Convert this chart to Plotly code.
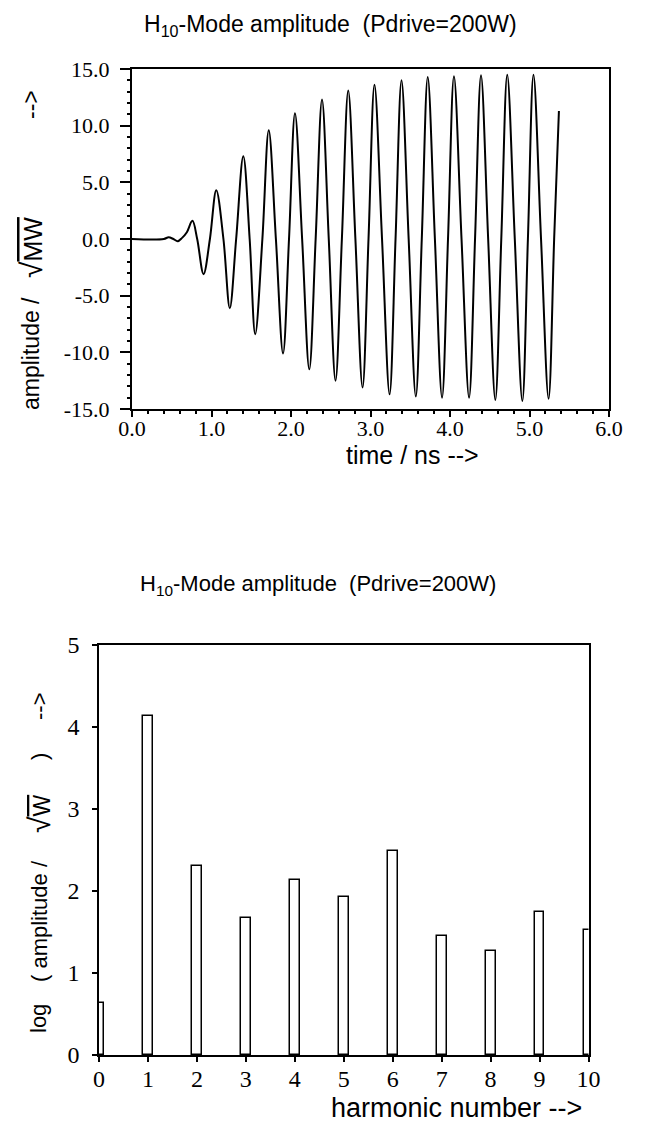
import plotly.graph_objects as go

# ---- top chart data: H10-mode amplitude vs time ----
t_ns = [0.00, 0.40, 0.46, 0.52, 0.575, 0.63, 0.69, 0.76, 0.82, 0.90, 0.98, 1.06,
        1.15, 1.23, 1.31, 1.40, 1.48, 1.55, 1.64, 1.72, 1.81, 1.90, 1.975, 2.05,
        2.14, 2.23, 2.31, 2.39, 2.475, 2.56, 2.64, 2.72, 2.81, 2.90, 2.975, 3.05,
        3.145, 3.24, 3.315, 3.39, 3.48, 3.57, 3.645, 3.72, 3.81, 3.90, 3.975, 4.05,
        4.145, 4.24, 4.315, 4.39, 4.48, 4.57, 4.645, 4.72, 4.815, 4.91, 4.98, 5.05,
        5.145, 5.24, 5.31, 5.37]
amp_sqrt_mw = [0.0, 0.0, 0.15, 0.0, -0.2, 0.1, 0.6, 1.6, 0.0, -3.1, 0.0, 4.3,
               0.0, -6.1, 0.0, 7.3, 0.0, -8.4, 0.0, 9.6, 0.0, -10.1, 0.0, 11.1,
               0.0, -11.5, 0.0, 12.3, 0.0, -12.5, 0.0, 13.1, 0.0, -13.1, 0.0, 13.6,
               0.0, -13.7, 0.0, 14.0, 0.0, -13.9, 0.0, 14.3, 0.0, -14.0, 0.0, 14.35,
               0.0, -14.0, 0.0, 14.45, 0.0, -14.2, 0.0, 14.5, 0.0, -14.3, 0.0, 14.5,
               0.0, -14.1, 0.0, 11.3]
top_x_ticks = [0, 1, 2, 3, 4, 5, 6]
top_x_labels = ["0.0", "1.0", "2.0", "3.0", "4.0", "5.0", "6.0"]
top_y_ticks = [15, 10, 5, 0, -5, -10, -15]
top_y_labels = ["15.0", "10.0", "5.0", "0.0", "-5.0", "-10.0", "-15.0"]

# ---- bottom chart data: harmonic spectrum ----
harmonic = [0, 1, 2, 3, 4, 5, 6, 7, 8, 9, 10]
log_amp = [0.64, 4.14, 2.30, 1.67, 2.14, 1.93, 2.49, 1.45, 1.27, 1.74, 1.52]
bot_x_ticks = [0, 1, 2, 3, 4, 5, 6, 7, 8, 9, 10]
bot_y_ticks = [0, 1, 2, 3, 4, 5]

W, H = 670, 1133
OFF = 8  # page body margin
title_text = "H<sub>10</sub>-Mode amplitude  (Pdrive=200W)"
SANS = "Liberation Sans, Arial, sans-serif"
SERIF = "Liberation Serif, Times New Roman, serif"
NB = "\u00a0"

def px(x):
    return (x - OFF) / W

def py(y):
    return 1 - (y - OFF) / H

fig = go.Figure()

fig.add_trace(go.Scatter(
    x=t_ns, y=amp_sqrt_mw, mode="lines",
    line=dict(color="black", width=2, shape="spline", smoothing=1.0),
    xaxis="x", yaxis="y", showlegend=False, hoverinfo="skip"))

fig.add_trace(go.Bar(
    x=harmonic, y=log_amp, width=0.2,
    marker=dict(color="white", line=dict(color="black", width=1.5)),
    xaxis="x2", yaxis="y2", showlegend=False, hoverinfo="skip"))

fig.update_layout(
    width=W, height=H,
    margin=dict(l=0, r=0, t=0, b=0, pad=0, autoexpand=False),
    paper_bgcolor="white", plot_bgcolor="white",
    xaxis=dict(domain=[px(132), px(609)], range=[0, 6], anchor="y", automargin=False,
               tickvals=top_x_ticks, ticktext=top_x_labels,
               ticks="outside", ticklen=6, tickwidth=2, tickcolor="black",
               ticklabelstandoff=-7,
               minor=dict(dtick=0.2, ticks="outside", ticklen=3, tickwidth=2, tickcolor="black"),
               showline=True, linewidth=2, linecolor="black", mirror=True,
               showgrid=False, zeroline=False,
               tickfont=dict(family=SERIF, size=22, color="black")),
    yaxis=dict(domain=[py(409), py(69)], range=[-15, 15], anchor="x", automargin=False,
               tickvals=top_y_ticks, ticktext=top_y_labels,
               ticks="outside", ticklen=10, tickwidth=2, tickcolor="black",
               ticklabelstandoff=6,
               minor=dict(dtick=1, ticks="outside", ticklen=3, tickwidth=2, tickcolor="black"),
               showline=True, linewidth=2, linecolor="black", mirror=True,
               showgrid=False, zeroline=False,
               tickfont=dict(family=SERIF, size=22, color="black")),
    xaxis2=dict(domain=[px(99), px(588.5)], range=[0, 10], anchor="y2", automargin=False,
                tickvals=bot_x_ticks,
                ticks="outside", ticklen=5, tickwidth=1.5, tickcolor="black",
                ticklabelstandoff=-4,
                showline=True, linewidth=1.5, linecolor="black", mirror=True,
                showgrid=False, zeroline=False,
                tickfont=dict(family=SERIF, size=24, color="black")),
    yaxis2=dict(domain=[py(1055), py(645)], range=[0, 5], anchor="x2", automargin=False,
                tickvals=bot_y_ticks,
                ticks="outside", ticklen=5, tickwidth=1.5, tickcolor="black",
                ticklabelstandoff=8,
                showline=True, linewidth=1.5, linecolor="black", mirror=True,
                showgrid=False, zeroline=False,
                tickfont=dict(family=SERIF, size=24, color="black")),
    bargap=0,
)

SQRT = "<span style='font-size:30px'>\u221a</span>"
annots = [
    dict(text=title_text, x=330, y=25, size=23),
    dict(text="time / ns -->", x=412, y=455, size=25),
    # rotated y label of the top chart, in three pieces
    dict(text="amplitude /", x=31, y=354, size=23, textangle=-90),
    dict(text=SQRT + "<span style='text-decoration:overline'>MW</span>", x=31, y=248, size=25, textangle=-90),
    dict(text="-->", x=31, y=105, size=23, textangle=-90),
    dict(text=title_text, x=318, y=585, size=22),
    dict(text="harmonic number -->", x=456, y=1108, size=27),
    # rotated y label of the bottom chart, in pieces
    dict(text="log", x=39, y=1019, size=22, textangle=-90),
    dict(text="(" + NB + "amplitude" + NB + "/", x=39, y=921, size=22, textangle=-90),
    dict(text=SQRT + "<span style='text-decoration:overline'>W</span>", x=39, y=814, size=23, textangle=-90),
    dict(text=")", x=39, y=757, size=22, textangle=-90),
    dict(text="-->", x=39, y=706, size=22, textangle=-90),
]
for a in annots:
    size = a.pop("size")
    a["x"] = px(a["x"])
    a["y"] = py(a["y"])
    fig.add_annotation(xref="paper", yref="paper", showarrow=False,
                       xanchor="center", yanchor="middle",
                       font=dict(family=SANS, size=size, color="black"), **a)

fig.write_html("out.html")
